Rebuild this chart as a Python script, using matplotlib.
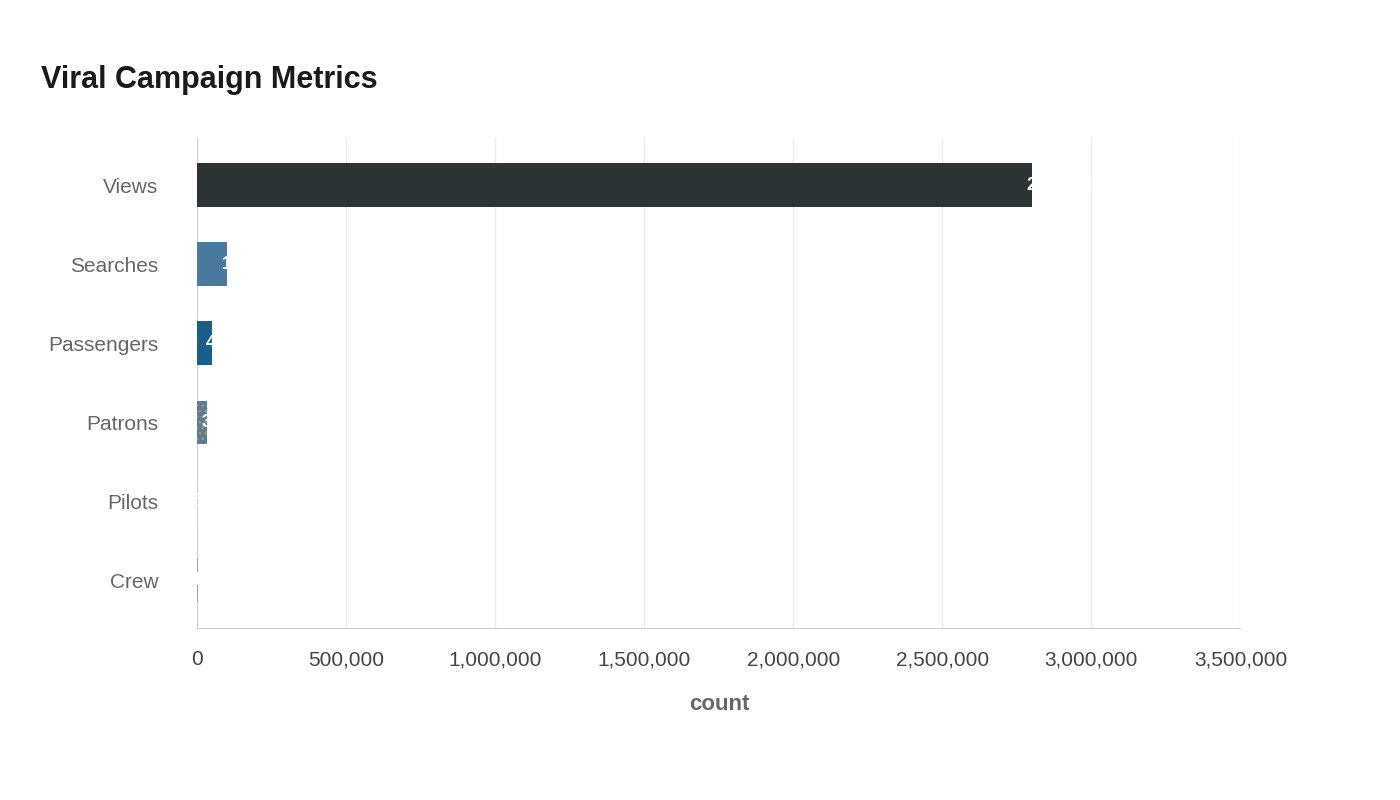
import matplotlib
matplotlib.use("Agg")
import matplotlib.pyplot as plt
from matplotlib.ticker import FuncFormatter

categories = ["Views", "Searches", "Passengers", "Patrons", "Pilots", "Crew"]
values = [2800000, 100000, 48000, 33000, 500, 1000]
colors = ["#2d3436", "#4a7aa0", "#1a5f8a", "#557e9c", "#cfd4d8", "#9aa0a6"]

plt.rcParams['font.family'] = ['Liberation Sans', 'DejaVu Sans']
fig = plt.figure(figsize=(14, 8), dpi=100)
ax = fig.add_axes([0.141, 0.215, 0.745, 0.613])
y = list(range(len(categories)))[::-1]
bars = ax.barh(y, values, height=0.55, color=colors, zorder=3)
bars[3].set_hatch("...")
bars[3].set_edgecolor("#c98a4a")
bars[3].set_linewidth(0)
for yy, v in zip(y, values):
    ax.annotate(f"{v:,}", (v, yy), xytext=(-4, 0), textcoords="offset points",
                ha="left", va="center", color="white", fontsize=13, fontweight="bold", zorder=4)
ax.set_xlim(0, 3500000)
ax.set_ylim(-0.6, 5.6)
ax.set_yticks(y)
ax.set_yticklabels(categories)
ax.set_xticks(range(0, 3500001, 500000))
ax.xaxis.set_major_formatter(FuncFormatter(lambda v, p: f"{int(v):,}"))
ax.grid(axis="x", color="#ebebeb", linewidth=1, zorder=0)
for s in ["top", "right"]:
    ax.spines[s].set_visible(False)
ax.spines["left"].set_color("#d0d0d0")
ax.spines["bottom"].set_color("#d0d0d0")
ax.tick_params(axis="y", length=0, pad=28, labelsize=15, labelcolor="#666666")
ax.tick_params(axis="x", length=0, pad=16, labelsize=15, labelcolor="#444444")
ax.set_xlabel("count", fontsize=16, fontweight="bold", color="#666666", labelpad=18)
fig.text(0.029, 0.9, "Viral Campaign Metrics", fontsize=22, fontweight="bold", color="#1a1a1a", va="center")
fig.savefig("out.png")
